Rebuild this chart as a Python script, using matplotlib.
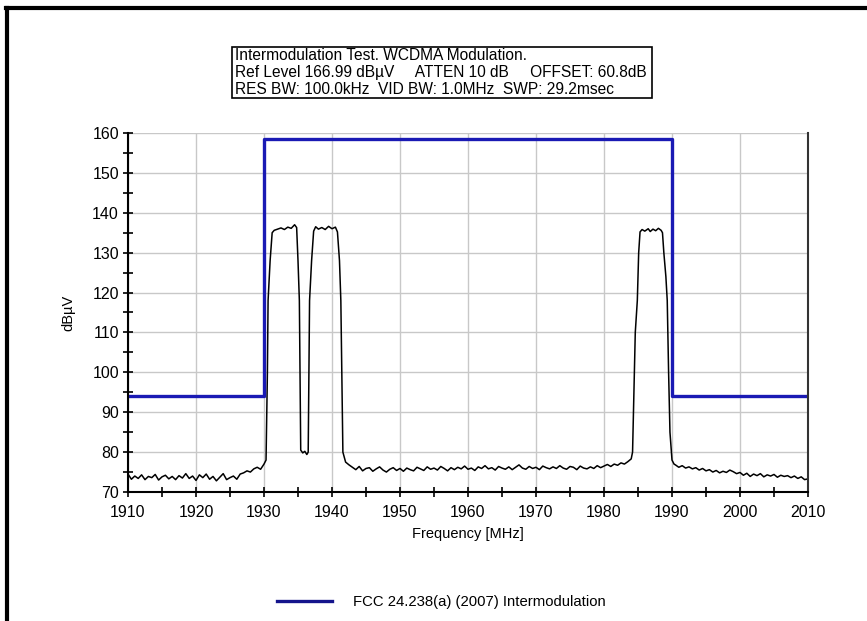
import numpy as np
import matplotlib
matplotlib.use("Agg")
import matplotlib.pyplot as plt
from matplotlib.lines import Line2D
from matplotlib.patches import Rectangle
from matplotlib.ticker import MultipleLocator

plt.rcParams['font.family'] = ['Liberation Sans', 'DejaVu Sans']

# ---- data ----
# noise floor segments, 0.5 MHz spacing
seg_a_start = 1910.0
seg_a = [74.5, 73.2, 74.0, 73.4, 74.3, 73.1, 73.9, 73.6, 74.4, 73.0,
         73.8, 74.2, 73.3, 73.9, 73.1, 74.1, 73.5, 74.6, 73.4, 74.0,
         72.9, 74.3, 73.6, 74.5, 73.2, 73.9, 72.8, 73.7, 74.6, 73.1,
         73.6, 74.0, 73.2, 74.5, 74.8, 75.3, 75.0, 75.8, 76.2, 75.7,
         77.0]

# the two lower carriers and the notch between them
ch12_freq = [1930.3, 1930.5, 1930.6, 1930.9, 1931.2, 1931.5, 1932.0, 1932.5,
             1933.0, 1933.5, 1934.0, 1934.5, 1934.8, 1935.0, 1935.2, 1935.4,
             1935.7, 1936.0, 1936.3, 1936.5, 1936.7, 1937.0, 1937.3, 1937.6,
             1938.0, 1938.5, 1939.0, 1939.5, 1940.0, 1940.5, 1940.8, 1941.1,
             1941.3, 1941.6, 1942.0, 1942.5]
ch12_level = [78.0, 100.0, 118.0, 128.0, 135.0, 135.6, 135.9, 136.2,
              135.8, 136.4, 136.1, 137.0, 136.3, 128.0, 118.0, 80.5,
              79.8, 80.2, 79.4, 80.0, 118.0, 128.0, 135.4, 136.5,
              135.9, 136.3, 135.8, 136.6, 136.0, 136.4, 135.2, 128.0,
              118.0, 80.0, 77.5, 76.8]

seg_b_start = 1943.0
seg_b = [76.2, 75.6, 76.4, 75.3, 75.9, 76.1, 75.2, 75.8, 76.3, 75.5,
         75.0, 75.7, 76.1, 75.4, 75.9, 75.2, 76.0, 75.6, 75.3, 76.2,
         75.8, 75.4, 76.3, 75.7, 76.0, 75.5, 76.4, 75.9, 75.3, 76.1,
         75.6, 76.2, 75.8, 76.5, 75.7, 76.0, 75.4, 76.3, 75.9, 76.6,
         75.8, 76.1, 75.5, 76.4, 76.0, 75.7, 76.3, 75.6, 76.2, 76.8,
         76.0, 75.7, 76.4, 75.9, 76.2, 75.6, 76.5, 76.1, 75.8, 76.3,
         75.9, 76.6, 76.0, 75.7, 76.4, 76.2, 75.6, 76.5, 76.0, 75.8,
         76.3, 75.9, 76.6, 76.1, 76.5, 76.9, 76.4, 77.0, 76.7, 77.3,
         77.0, 77.6, 78.3]

# upper carrier
ch3_freq = [1984.2, 1984.4, 1984.6, 1984.9, 1985.1, 1985.3, 1985.6, 1986.0,
            1986.5, 1986.8, 1987.2, 1987.6, 1988.0, 1988.4, 1988.6, 1988.8,
            1989.1, 1989.3, 1989.5, 1989.7, 1990.0, 1990.3]
ch3_level = [80.0, 95.0, 110.0, 118.0, 130.0, 135.2, 135.8, 135.4,
             136.0, 135.3, 135.9, 135.5, 136.1, 135.6, 135.0, 130.0,
             124.0, 118.0, 100.0, 85.0, 78.0, 77.0]

seg_c_start = 1990.5
seg_c = [76.8, 76.2, 76.6, 76.0, 76.3, 75.8, 76.1, 75.5, 75.9, 75.3,
         75.6, 75.0, 75.4, 74.8, 75.2, 74.9, 75.5, 75.1, 74.6, 74.9,
         74.2, 74.7, 73.9, 74.5, 74.1, 74.6, 73.8, 74.3, 74.0, 74.4,
         73.7, 74.2, 73.9, 74.1, 73.6, 74.0, 73.4, 73.8, 73.1, 73.3]

# FCC 24.238(a) limit line
limit_freq = [1910, 1930, 1930, 1990, 1990, 2010]
limit_level = [94.0, 94.0, 158.5, 158.5, 94.0, 94.0]

header_lines = ["Intermodulation Test. WCDMA Modulation.",
                "Ref Level 166.99 dB\u00b5V     ATTEN 10 dB     OFFSET: 60.8dB",
                "RES BW: 100.0kHz  VID BW: 1.0MHz  SWP: 29.2msec"]


def seg_freq(start, vals):
    return list(start + 0.5 * np.arange(len(vals)))


freq = (seg_freq(seg_a_start, seg_a) + ch12_freq + seg_freq(seg_b_start, seg_b)
        + ch3_freq + seg_freq(seg_c_start, seg_c))
level = seg_a + ch12_level + seg_b + ch3_level + seg_c

W, H = 867, 621
fig = plt.figure(figsize=(W / 100, H / 100), dpi=100)
ax = fig.add_axes([128 / W, 1 - 492 / H, 680 / W, 359 / H])

ax.plot(freq, level, color="black", lw=1.1)
ax.plot(limit_freq, limit_level, color="#1a1ab4", lw=2.4,
        label="FCC 24.238(a) (2007) Intermodulation")

ax.set_xlim(1910, 2010)
ax.set_ylim(70, 160)
ax.xaxis.set_major_locator(MultipleLocator(10))
ax.xaxis.set_minor_locator(MultipleLocator(5))
ax.yaxis.set_major_locator(MultipleLocator(10))
ax.yaxis.set_minor_locator(MultipleLocator(5))
ax.grid(True, which="major", color="#c8c8c8", lw=1)
ax.set_axisbelow(True)
ax.tick_params(which="both", direction="inout", length=7, width=1.2,
               labelsize=11.5)
ax.tick_params(axis="x", pad=6)
ax.tick_params(axis="y", pad=3)
for s in ["left", "bottom"]:
    ax.spines[s].set_linewidth(1.5)
ax.spines["top"].set_visible(False)
ax.spines["right"].set_color("#333333")
ax.spines["right"].set_linewidth(1.5)

ax.set_xlabel("Frequency [MHz]", fontsize=10.5, labelpad=5)
ax.set_ylabel("dB\u00b5V", fontsize=10.5, labelpad=12)

# header box
fig.patches.append(Rectangle((232 / W, 1 - 98 / H), 420 / W, 51 / H,
                             transform=fig.transFigure, fill=False,
                             edgecolor="black", lw=1.2))
for i, txt in enumerate(header_lines):
    fig.text(235 / W, 1 - (56 + 17 * i) / H, txt, fontsize=11.2,
             ha="left", va="center")

fig.legend(loc="center left", bbox_to_anchor=(277 / W, 1 - 602 / H),
           frameon=False, fontsize=10.7, handlelength=3.7,
           handletextpad=1.4, borderpad=0, borderaxespad=0)
fig.legends[0].get_lines()[0].set_color("#14148c")

# window frame edges (top and left)
fig.lines.append(Line2D([6 / W, 1], [1 - 8 / H, 1 - 8 / H],
                        transform=fig.transFigure, color="black", lw=3))
fig.lines.append(Line2D([7 / W, 7 / W], [0, 1 - 8 / H],
                        transform=fig.transFigure, color="black", lw=3))

fig.savefig("out.png", dpi=100)
